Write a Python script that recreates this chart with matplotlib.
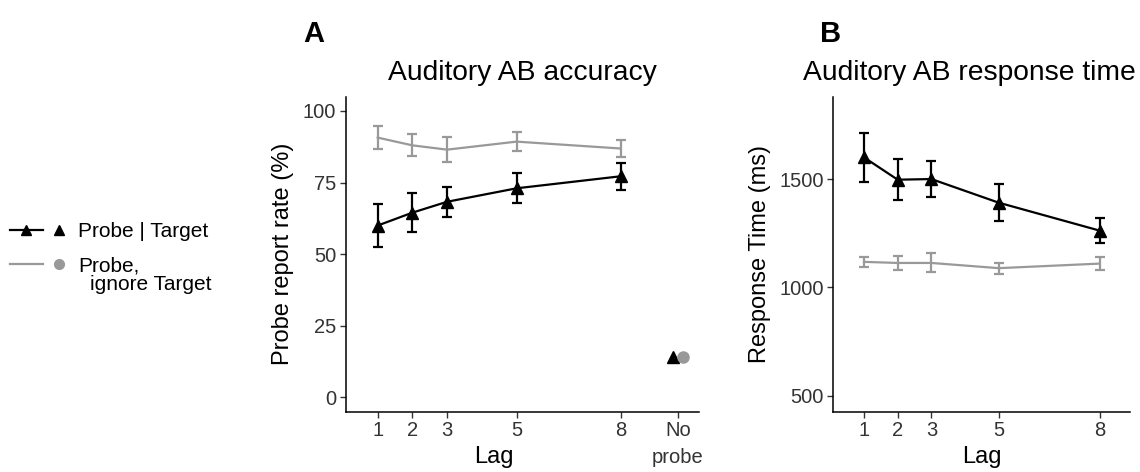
import numpy as np
import matplotlib.pyplot as plt
from matplotlib.lines import Line2D

plt.rcParams['font.family'] = ['Liberation Sans', 'DejaVu Sans']

# Данные
lags = [1, 2, 3, 5, 8]
noprobe_x = 9.65

acc_target = [60.0, 64.5, 68.3, 73.0, 77.2]
acc_target_err = [7.5, 6.7, 5.3, 5.3, 4.8]
acc_ignore = [90.7, 88.0, 86.5, 89.3, 86.9]
acc_ignore_err = [4.0, 3.8, 4.3, 3.4, 3.0]
noprobe_target = 14.0
noprobe_ignore = 14.0

rt_target = [1600, 1497, 1500, 1391, 1262]
rt_target_err = [112, 94, 85, 85, 58]
rt_ignore = [1118, 1113, 1113, 1089, 1110]
rt_ignore_err = [24, 34, 44, 26, 30]

black = '#000000'
grey = '#999999'
tick_col = '#333333'

fig = plt.figure(figsize=(11.4, 4.72), dpi=100)

def style(ax):
    for s in ['top', 'right']:
        ax.spines[s].set_visible(False)
    for s in ['left', 'bottom']:
        ax.spines[s].set_linewidth(1.1)
    ax.tick_params(direction='out', length=4, width=1, color='#333333',
                   labelsize=14.5, labelcolor=tick_col, pad=3)

def series(ax, y, err, color, marker):
    ax.errorbar(lags, y, yerr=err, color=color, lw=1.6, elinewidth=1.6,
                capsize=3.5, capthick=1.6, marker=marker, ms=8 if marker else 0)

# Панель A
axA = fig.add_axes([0.3033, 0.1278, 0.3102, 0.6674])
series(axA, acc_ignore, acc_ignore_err, grey, None)
series(axA, acc_target, acc_target_err, black, '^')
axA.plot(noprobe_x - 0.15, noprobe_target, marker='^', color=black, ms=8, ls='')
axA.plot(noprobe_x + 0.15, noprobe_ignore, marker='o', color=grey, ms=8, ls='')
axA.set_xlim(0.08, 10.27)
axA.set_ylim(-5, 105)
axA.set_yticks([0, 25, 50, 75, 100])
axA.set_xticks(lags + [noprobe_x])
axA.set_xticklabels(['1', '2', '3', '5', '8', 'No\nprobe'])
style(axA)
for lbl in axA.get_xticklabels()[-1:]:
    lbl.set_linespacing(1.5)
axA.set_ylabel('Probe report rate (%)', fontsize=17, labelpad=6)
axA.set_xlabel('Lag', fontsize=17)
axA.xaxis.set_label_coords(0.42, -0.11)
axA.set_title('Auditory AB accuracy', fontsize=20.3, pad=12)

# Панель B
axB = fig.add_axes([0.731, 0.1278, 0.2603, 0.6674])
series(axB, rt_ignore, rt_ignore_err, grey, None)
series(axB, rt_target, rt_target_err, black, '^')
axB.set_xlim(0.09, 8.9)
axB.set_ylim(427, 1880)
axB.set_yticks([500, 1000, 1500])
axB.set_xticks(lags)
style(axB)
axB.set_ylabel('Response Time (ms)', fontsize=17, labelpad=6)
axB.set_xlabel('Lag', fontsize=17)
axB.xaxis.set_label_coords(0.50, -0.11)
axB.set_title('Auditory AB response time', fontsize=20.3, pad=12, x=0.457)

fig.text(303 / 1140, 1 - 42 / 472, 'A', fontsize=21, fontweight='bold')
fig.text(820 / 1140, 1 - 42 / 472, 'B', fontsize=21, fontweight='bold')

# Легенда
def fx(px):
    return px / 1140

def fy(py):
    return 1 - py / 472

fig.add_artist(Line2D([fx(10), fx(43)], [fy(230), fy(230)], color=black, lw=1.6))
fig.add_artist(Line2D([fx(26)], [fy(230)], marker='^', color=black, ms=7))
fig.add_artist(Line2D([fx(59)], [fy(230)], marker='^', color=black, ms=7))
fig.text(fx(78), fy(237), 'Probe | Target', fontsize=15, va='baseline')
fig.add_artist(Line2D([fx(10), fx(43)], [fy(264), fy(264)], color=grey, lw=1.6))
fig.add_artist(Line2D([fx(59)], [fy(264)], marker='o', color=grey, ms=7))
fig.text(fx(78), fy(271), 'Probe,', fontsize=15, va='baseline')
fig.text(fx(90), fy(290), 'ignore Target', fontsize=15, va='baseline')

plt.savefig('out.png', dpi=100)
